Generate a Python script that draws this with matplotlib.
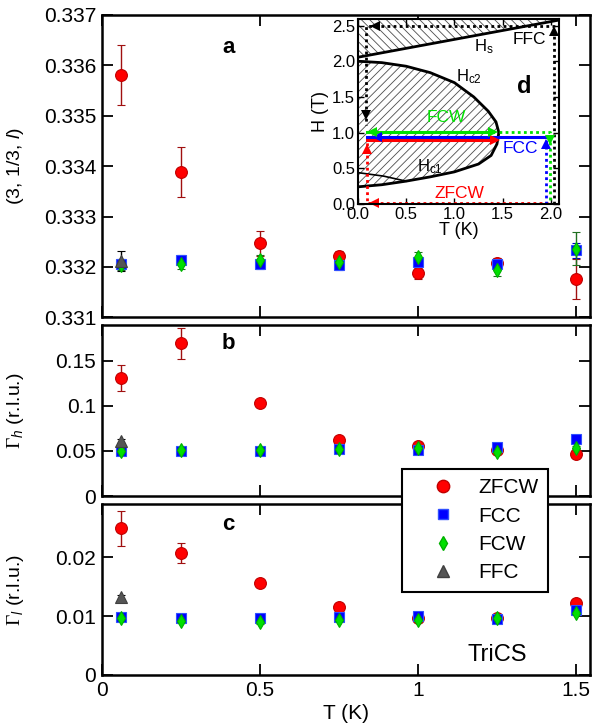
import numpy as np
import matplotlib
matplotlib.use('Agg')
import matplotlib.pyplot as plt
from matplotlib.lines import Line2D
from matplotlib.ticker import FixedLocator, FuncFormatter, FormatStrFormatter

plt.rcParams['font.family'] = ['Liberation Sans', 'DejaVu Sans']
plt.rcParams['mathtext.fontset'] = 'custom'
plt.rcParams['mathtext.rm'] = 'Liberation Serif'
plt.rcParams['mathtext.it'] = 'Liberation Sans:italic'
plt.rcParams['hatch.linewidth'] = 0.6

# ---------------- data ----------------
T = [0.06, 0.25, 0.5, 0.75, 1.0, 1.25, 1.5]
T_ffc = [0.06]
series_names = ['ZFCW', 'FCC', 'FCW', 'FFC']

# panel a : l position of (3, 1/3, l)
L_zfcw = [0.33581, 0.33389, 0.33247, 0.33221, 0.33187, 0.33207, 0.33176]
L_zfcw_err = [0.0006, 0.0005, 0.00025, 0.0001, 0.0001, 0.0001, 0.0004]
L_fcc = [0.33205, 0.33214, 0.33205, 0.33204, 0.33209, 0.33205, 0.33233]
L_fcc_err = [0.0001, 0.0001, 0.0001, 0.0001, 0.0001, 0.0001, 0.00015]
L_fcw = [0.33203, 0.33206, 0.33214, 0.33209, 0.33219, 0.33194, 0.33236]
L_fcw_err = [0.0001, 0.0001, 0.0001, 0.0001, 0.0001, 0.00013, 0.00033]
L_ffc = [0.33211]
L_ffc_err = [0.0002]

# panel b : Gamma_h
Gh_zfcw = [0.1311, 0.1693, 0.1035, 0.0621, 0.0558, 0.0510, 0.0469]
Gh_zfcw_err = [0.0145, 0.0175, 0.002, 0.002, 0.002, 0.002, 0.002]
Gh_fcc = [0.0499, 0.0502, 0.0502, 0.0521, 0.0510, 0.0540, 0.0632]
Gh_fcc_err = [0.002] * 7
Gh_fcw = [0.0495, 0.0505, 0.0505, 0.0520, 0.0529, 0.0491, 0.0529]
Gh_fcw_err = [0.002] * 7
Gh_ffc = [0.0613]
Gh_ffc_err = [0.002]

# panel c : Gamma_l
Gl_zfcw = [0.02486, 0.02068, 0.0156, 0.01147, 0.0097, 0.0096, 0.01225]
Gl_zfcw_err = [0.0029, 0.0017, 0.0003, 0.0003, 0.0003, 0.0003, 0.0003]
Gl_fcc = [0.00977, 0.0097, 0.0096, 0.0098, 0.0100, 0.0095, 0.0110]
Gl_fcc_err = [0.0003] * 7
Gl_fcw = [0.0097, 0.0091, 0.0090, 0.0094, 0.0093, 0.0097, 0.01056]
Gl_fcw_err = [0.0003] * 7
Gl_ffc = [0.01327]
Gl_ffc_err = [0.0003]

# inset d : phase diagram
Hs_T = [0.0, 2.085]
Hs_H = [2.055, 2.577]
Hc2_T = [0.0, 0.25, 0.5, 0.75, 1.0, 1.2, 1.35, 1.43, 1.46]
Hc2_H = [2.0, 1.98, 1.93, 1.84, 1.70, 1.50, 1.30, 1.15, 1.0]
Hc1_T = [1.46, 1.44, 1.38, 1.25, 1.0, 0.75, 0.5, 0.25, 0.0]
Hc1_H = [1.0, 0.84, 0.68, 0.56, 0.45, 0.38, 0.32, 0.27, 0.24]
Hx_T = [0.0, 0.27, 0.5]
Hx_H = [0.44, 0.39, 0.32]

# measurement paths (T, H)
ffc_path_T = [2.03, 2.03, 0.09, 0.09]
ffc_path_H = [0.0, 2.5, 2.5, 1.1]
zfcw_dot_T = [1.97, 0.10, 0.10]
zfcw_dot_H = [0.01, 0.01, 0.89]
zfcw_sol_T = [0.10, 1.42]
zfcw_sol_H = [0.89, 0.89]
fcc_dot_T = [1.95, 1.95]
fcc_dot_H = [0.0, 0.94]
fcc_sol_T = [1.97, 0.10]
fcc_sol_H = [0.94, 0.94]
fcw_dot_T = [1.46, 1.99, 1.99]
fcw_dot_H = [1.01, 1.01, 0.0]
fcw_sol_T = [0.10, 1.40]
fcw_sol_H = [1.01, 1.01]

# ---------------- styles ----------------
RED, BLUE, GREEN, GRAY = '#ff0000', '#0000ff', '#00e000', '#555555'
styles = {
    'ZFCW': dict(fmt='o', color=RED, ms=8.5, mec='#c00000', ecolor='#a01010'),
    'FCC': dict(fmt='s', color=BLUE, ms=6.5, mec='#3050ff', ecolor='#0000c0'),
    'FCW': dict(fmt='d', color=GREEN, ms=7, mec='#00b000', ecolor='#207020'),
    'FFC': dict(fmt='^', color=GRAY, ms=8, mec='#404040', ecolor='black'),
}

fig = plt.figure(figsize=(5.99, 7.28), dpi=100)
W, Hf = 599.0, 728.0
L0, R0 = 101.7, 590.0

def ax_rect(top, bot):
    return [L0 / W, 1 - bot / Hf, (R0 - L0) / W, (bot - top) / Hf]

axa = fig.add_axes(ax_rect(15, 317.3))
axb = fig.add_axes(ax_rect(325, 496))
axc = fig.add_axes(ax_rect(504, 675))

def plot_panel(ax, data):
    for name in series_names:
        x, y, e = data[name]
        st = styles[name]
        ax.errorbar(x, y, yerr=e, fmt=st['fmt'], color=st['color'], ms=st['ms'],
                    mec=st['mec'], mew=0.8, ecolor=st['ecolor'], elinewidth=1.0,
                    capsize=3.2, capthick=1.0, zorder=3)

plot_panel(axa, {'ZFCW': (T, L_zfcw, L_zfcw_err), 'FCC': (T, L_fcc, L_fcc_err),
                 'FCW': (T, L_fcw, L_fcw_err), 'FFC': (T_ffc, L_ffc, L_ffc_err)})
plot_panel(axb, {'ZFCW': (T, Gh_zfcw, Gh_zfcw_err), 'FCC': (T, Gh_fcc, Gh_fcc_err),
                 'FCW': (T, Gh_fcw, Gh_fcw_err), 'FFC': (T_ffc, Gh_ffc, Gh_ffc_err)})
plot_panel(axc, {'ZFCW': (T, Gl_zfcw, Gl_zfcw_err), 'FCC': (T, Gl_fcc, Gl_fcc_err),
                 'FCW': (T, Gl_fcw, Gl_fcw_err), 'FFC': (T_ffc, Gl_ffc, Gl_ffc_err)})

gfmt = FuncFormatter(lambda v, p: ('%g' % round(v, 6)))
for ax in (axa, axb, axc):
    ax.set_xlim(0, 1.544)
    ax.xaxis.set_major_locator(FixedLocator([0, 0.5, 1.0, 1.5]))
    ax.xaxis.set_major_formatter(gfmt)
    ax.tick_params(direction='in', length=8, width=1.3, top=True, right=True,
                   labelsize=15, pad=4)
    for s in ax.spines.values():
        s.set_linewidth(1.8)

axa.set_ylim(0.331, 0.337)
axa.yaxis.set_major_locator(FixedLocator([0.331, 0.332, 0.333, 0.334, 0.335, 0.336, 0.337]))
axa.yaxis.set_major_formatter(FormatStrFormatter('%.3f'))
axb.set_ylim(0, 0.1896)
axb.yaxis.set_major_locator(FixedLocator([0, 0.05, 0.1, 0.15]))
axb.yaxis.set_major_formatter(gfmt)
axc.set_ylim(0, 0.029)
axc.yaxis.set_major_locator(FixedLocator([0, 0.01, 0.02]))
axc.yaxis.set_major_formatter(gfmt)
axa.tick_params(labelbottom=False)
axb.tick_params(labelbottom=False)

axa.set_ylabel('(3, 1/3, $l$)', fontsize=14)
axb.set_ylabel(r'$\Gamma_h$ (r.l.u.)', fontsize=14)
axc.set_ylabel(r'$\Gamma_l$ (r.l.u.)', fontsize=14)
for ax in (axa, axb, axc):
    ax.yaxis.set_label_coords(-0.155, 0.5)
axc.set_xlabel('T (K)', fontsize=15, labelpad=3)

for ax, lab, yy in ((axa, 'a', 0.891), (axb, 'b', 0.893), (axc, 'c', 0.881)):
    ax.text(0.26, yy, lab, transform=ax.transAxes, fontsize=16, fontweight='bold',
            ha='center', va='center')
axc.text(0.81, 0.117, 'TriCS', transform=axc.transAxes, fontsize=17,
         ha='center', va='center')

# legend
handles = [Line2D([], [], linestyle='none', marker=styles[n]['fmt'], color=styles[n]['color'],
                  mec=styles[n]['mec'], ms=styles[n]['ms'] * 1.05) for n in series_names]
leg = fig.legend(handles, series_names, loc='upper left',
                 bbox_to_anchor=(402 / W, 1 - 469 / Hf), fontsize=15,
                 frameon=True, fancybox=False, edgecolor='black', framealpha=1,
                 handlelength=3.0, handletextpad=0.2, labelspacing=0.45,
                 borderpad=0.45, borderaxespad=0)
leg.get_frame().set_linewidth(1.5)
leg.set_zorder(10)

# ---------------- inset d ----------------
il, ir, it, ib = 357.7, 559.3, 19.3, 204.0
axd = fig.add_axes([il / W, 1 - ib / Hf, (ir - il) / W, (ib - it) / Hf])
axd.set_zorder(5)
axd.set_facecolor('white')
axd.set_xlim(0, 2.085)
axd.set_ylim(0, 2.587)
axd.fill_between(Hs_T, Hs_H, [2.7, 2.7], facecolor='none', edgecolor='0.3',
                 hatch='\\\\\\\\', linewidth=0)
dome_T = Hc2_T + Hc1_T[1:]
dome_H = Hc2_H + Hc1_H[1:]
axd.fill(dome_T, dome_H, facecolor='none', edgecolor='0.3', hatch='////', linewidth=0)
axd.plot(Hs_T, Hs_H, color='black', lw=2)
axd.plot(Hc2_T, Hc2_H, color='black', lw=2)
axd.plot(Hc1_T, Hc1_H, color='black', lw=2)
axd.plot(Hx_T, Hx_H, color='black', lw=1.2)

dot = dict(linestyle=(0, (1, 1.2)), lw=2, dash_capstyle='butt')
axd.plot(ffc_path_T, ffc_path_H, color='black', **dot)
axd.plot(zfcw_dot_T, zfcw_dot_H, color=RED, **dot)
axd.plot(fcc_dot_T, fcc_dot_H, color=BLUE, **dot)
axd.plot(fcw_dot_T, fcw_dot_H, color=GREEN, **dot)
axd.plot(zfcw_sol_T, zfcw_sol_H, color=RED, lw=2.2)
axd.plot(fcc_sol_T, fcc_sol_H, color=BLUE, lw=2.2)
axd.plot(fcw_sol_T, fcw_sol_H, color=GREEN, lw=2.2)
# arrow heads
heads = [
    ('^', 2.03, 2.42, 'black'), ('<', 0.18, 2.5, 'black'), ('v', 0.09, 1.24, 'black'),
    ('<', 0.17, 0.01, RED), ('^', 0.10, 0.77, RED), ('>', 1.42, 0.89, RED),
    ('^', 1.95, 0.84, BLUE), ('<', 0.20, 0.94, BLUE),
    ('>', 1.40, 1.01, GREEN), ('<', 0.15, 1.01, GREEN), ('v', 1.99, 0.90, GREEN),
]
for m, x, y, c in heads:
    axd.plot([x], [y], marker=m, color=c, ms=7, mew=0, clip_on=False)

axd.text(1.78, 2.30, 'FFC', fontsize=12.5, ha='center', va='center', color='black')
axd.text(1.30, 2.20, '$\\mathregular{H_s}$', fontsize=12, ha='center', va='center')
axd.text(1.15, 1.78, '$\\mathregular{H_{c2}}$', fontsize=12, ha='center', va='center')
axd.text(0.75, 0.52, '$\\mathregular{H_{c1}}$', fontsize=12, ha='center', va='center')
axd.text(1.72, 1.64, 'd', fontsize=17, fontweight='bold', ha='center', va='center')
axd.text(0.92, 1.21, 'FCW', fontsize=12.5, ha='center', va='center', color=GREEN)
axd.text(1.68, 0.78, 'FCC', fontsize=12.5, ha='center', va='center', color=BLUE)
axd.text(1.05, 0.15, 'ZFCW', fontsize=12.5, ha='center', va='center', color=RED)

axd.xaxis.set_major_locator(FixedLocator([0, 0.5, 1.0, 1.5, 2.0]))
axd.yaxis.set_major_locator(FixedLocator([0, 0.5, 1.0, 1.5, 2.0, 2.5]))
axd.xaxis.set_major_formatter(FormatStrFormatter('%.1f'))
axd.yaxis.set_major_formatter(FormatStrFormatter('%.1f'))
axd.tick_params(direction='in', length=4, width=1, top=True, right=True,
                labelsize=12, pad=2)
for s in axd.spines.values():
    s.set_linewidth(1.5)
axd.set_xlabel('T (K)', fontsize=13, labelpad=0)
axd.set_ylabel('H (T)', fontsize=13, labelpad=2)

fig.savefig('out.png', dpi=100)
